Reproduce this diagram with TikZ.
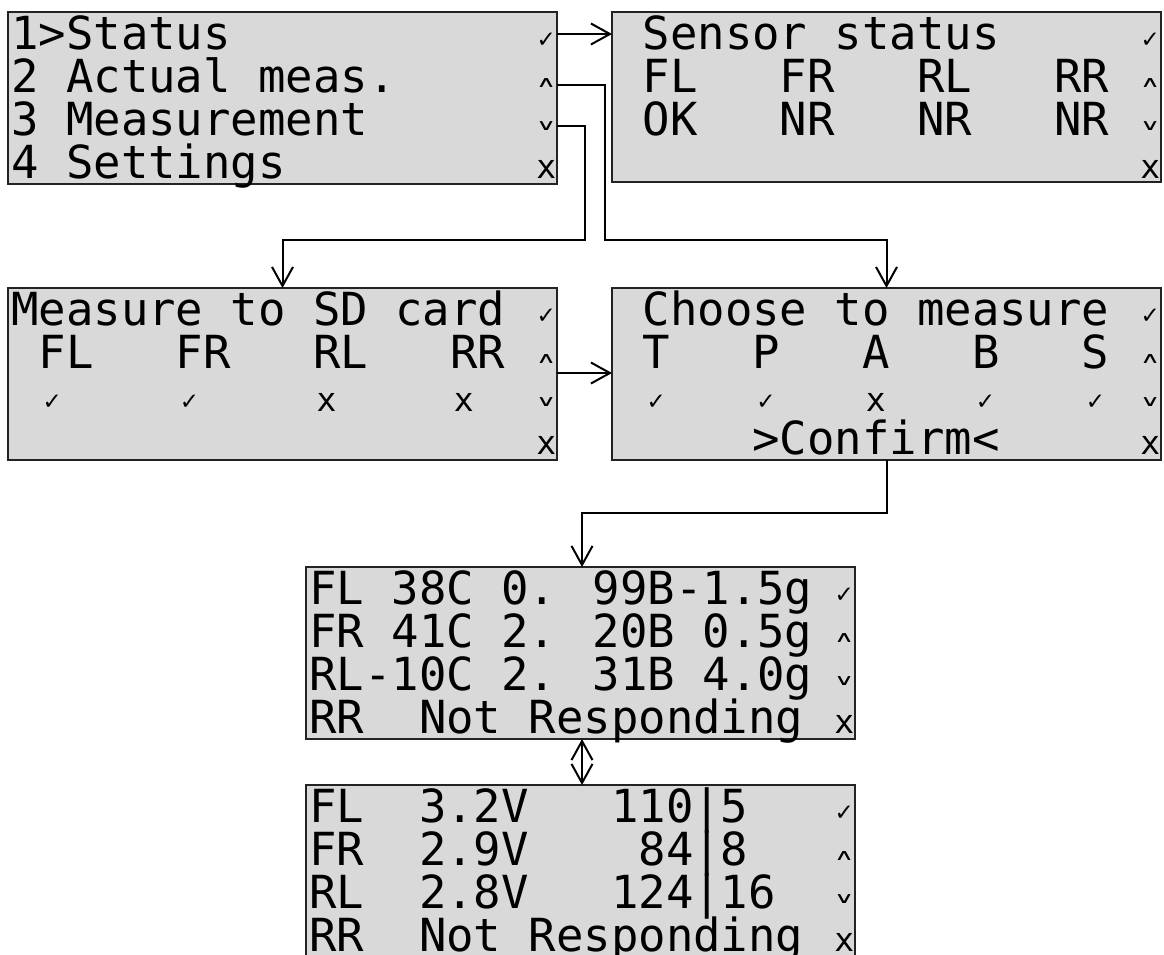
\documentclass[tikz,border=0pt]{standalone}
\usepackage{fontspec}
\usepackage{graphicx}
\newfontfamily\lcd{DejaVu Sans Mono}
\newfontfamily\symfont{DejaVu Sans}
\usetikzlibrary{arrows.meta}

\definecolor{lcdbg}{RGB}{217,217,217}
\definecolor{lcdedge}{RGB}{35,35,35}

% character grid of the displays
\newcommand\pitch{27.45}
\newcommand\lcdfont{\lcd\fontsize{45.6}{45.6}\selectfont}

% status glyphs
\newcommand\mkok{{\symfont\fontsize{23}{23}\selectfont ✓}}
\newcommand\mkup{\scalebox{1.25}[0.7]{\symfont\fontsize{22}{22}\selectfont ∧}}
\newcommand\mkdn{\scalebox{1.25}[0.7]{\symfont\fontsize{22}{22}\selectfont ∨}}
\newcommand\mkno{{\lcd\fontsize{33}{33}\selectfont x}}

% text placed on (row, column) of a display
\newcommand\lcdtext[4]{%
  \node[lcdtext, name=#1-#2-#3] at ([shift={({3+#3*\pitch},{43*#2+37})}]#1.north west) {#4};}
% small mark centred in a cell
\newcommand\lcdmark[4]{%
  \node[lcdmark, name=#1-m#2-#3] at ([shift={({3+(#3+0.5)*\pitch},{43*#2+28})}]#1.north west) {#4};}

\tikzset{
  screen/.style={draw=lcdedge, line width=1.4pt, fill=lcdbg, anchor=north west,
    inner sep=0pt, outer sep=0pt, minimum width=549pt},
  lcdtext/.style={anchor=base west, inner sep=0pt, font=\lcdfont, text=black},
  lcdmark/.style={anchor=center, inner sep=0pt, text=black},
  link/.style={draw=black, line width=2pt},
  tip/.style={-{Straight Barb[length=19pt,width=21pt]}},
  tipboth/.style={{Straight Barb[length=19pt,width=21pt]}-{Straight Barb[length=19pt,width=21pt]}},
}

\begin{document}
\begin{tikzpicture}[x=1pt, y=-1pt]
\useasboundingbox (0,0) rectangle (1164,954);

% ---- displays
\node[screen, minimum height=172pt] (menu)   at (8,12) {};
\node[screen, minimum height=170pt] (status) at (612,12) {};
\node[screen, minimum height=172pt] (sdcard) at (8,288) {};
\node[screen, minimum height=172pt] (choose) at (612,288) {};
\node[screen, minimum height=172pt] (result) at (306,567) {};
\node[screen, minimum height=172pt] (raw)    at (306,785) {};

% ---- main menu
\lcdtext{menu}{0}{0}{1>Status}
\lcdtext{menu}{1}{0}{2 Actual meas.}
\lcdtext{menu}{2}{0}{3 Measurement}
\lcdtext{menu}{3}{0}{4 Settings}
\lcdmark{menu}{0}{19}{\mkok}
\lcdmark{menu}{1}{19}{\mkup}
\lcdmark{menu}{2}{19}{\mkdn}
\lcdmark{menu}{3}{19}{\mkno}

% ---- sensor status
\lcdtext{status}{0}{1}{Sensor status}
\lcdtext{status}{1}{1}{FL}
\lcdtext{status}{1}{6}{FR}
\lcdtext{status}{1}{11}{RL}
\lcdtext{status}{1}{16}{RR}
\lcdtext{status}{2}{1}{OK}
\lcdtext{status}{2}{6}{NR}
\lcdtext{status}{2}{11}{NR}
\lcdtext{status}{2}{16}{NR}
\lcdmark{status}{0}{19}{\mkok}
\lcdmark{status}{1}{19}{\mkup}
\lcdmark{status}{2}{19}{\mkdn}
\lcdmark{status}{3}{19}{\mkno}

% ---- SD card selection
\lcdtext{sdcard}{0}{0}{Measure to SD card}
\lcdtext{sdcard}{1}{1}{FL}
\lcdtext{sdcard}{1}{6}{FR}
\lcdtext{sdcard}{1}{11}{RL}
\lcdtext{sdcard}{1}{16}{RR}
\lcdmark{sdcard}{2}{1}{\mkok}
\lcdmark{sdcard}{2}{6}{\mkok}
\lcdmark{sdcard}{2}{11}{\mkno}
\lcdmark{sdcard}{2}{16}{\mkno}
\lcdmark{sdcard}{0}{19}{\mkok}
\lcdmark{sdcard}{1}{19}{\mkup}
\lcdmark{sdcard}{2}{19}{\mkdn}
\lcdmark{sdcard}{3}{19}{\mkno}

% ---- quantity selection
\lcdtext{choose}{0}{1}{Choose to measure}
\lcdtext{choose}{1}{1}{T}
\lcdtext{choose}{1}{5}{P}
\lcdtext{choose}{1}{9}{A}
\lcdtext{choose}{1}{13}{B}
\lcdtext{choose}{1}{17}{S}
\lcdmark{choose}{2}{1}{\mkok}
\lcdmark{choose}{2}{5}{\mkok}
\lcdmark{choose}{2}{9}{\mkno}
\lcdmark{choose}{2}{13}{\mkok}
\lcdmark{choose}{2}{17}{\mkok}
\lcdtext{choose}{3}{5}{>Confirm<}
\lcdmark{choose}{0}{19}{\mkok}
\lcdmark{choose}{1}{19}{\mkup}
\lcdmark{choose}{2}{19}{\mkdn}
\lcdmark{choose}{3}{19}{\mkno}

% ---- live values
\lcdtext{result}{0}{0}{FL 38C 0. 99B-1.5g}
\lcdtext{result}{1}{0}{FR 41C 2. 20B 0.5g}
\lcdtext{result}{2}{0}{RL-10C 2. 31B 4.0g}
\lcdtext{result}{3}{0}{RR}
\lcdtext{result}{3}{4}{Not Responding}
\lcdmark{result}{0}{19}{\mkok}
\lcdmark{result}{1}{19}{\mkup}
\lcdmark{result}{2}{19}{\mkdn}
\lcdmark{result}{3}{19}{\mkno}

% ---- raw sensor values
\lcdtext{raw}{0}{0}{FL}
\lcdtext{raw}{0}{4}{3.2V}
\lcdtext{raw}{0}{11}{110|5}
\lcdtext{raw}{1}{0}{FR}
\lcdtext{raw}{1}{4}{2.9V}
\lcdtext{raw}{1}{12}{84|8}
\lcdtext{raw}{2}{0}{RL}
\lcdtext{raw}{2}{4}{2.8V}
\lcdtext{raw}{2}{11}{124|16}
\lcdtext{raw}{3}{0}{RR}
\lcdtext{raw}{3}{4}{Not Responding}
\lcdmark{raw}{0}{19}{\mkok}
\lcdmark{raw}{1}{19}{\mkup}
\lcdmark{raw}{2}{19}{\mkdn}
\lcdmark{raw}{3}{19}{\mkno}

% ---- navigation links
\coordinate (m0) at (0,34);
\coordinate (m1) at (0,85);
\coordinate (m2) at (0,126);
\coordinate (busA) at (605,240);
\coordinate (busB) at (585,240);
\coordinate (s1) at (0,373);
\coordinate (j1) at (582,513);

\draw[link,tip] (menu.east |- m0) -- (status.west |- m0);
\draw[link,tip] (menu.east |- m1) -| (busA) -| (choose.north);
\draw[link,tip] (menu.east |- m2) -| (busB) -| (sdcard.north);
\draw[link,tip] (sdcard.east |- s1) -- (choose.west |- s1);
\draw[link,tip] (choose.south) |- (j1) -- (result.north -| j1);
\draw[link,tipboth] (result.south -| j1) -- (raw.north -| j1);
\end{tikzpicture}
\end{document}
